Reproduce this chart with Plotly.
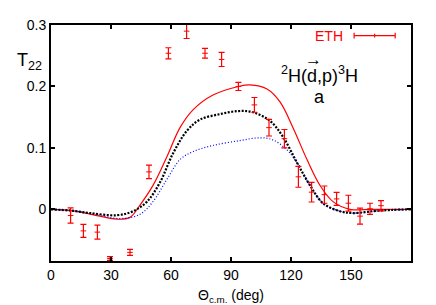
import plotly.graph_objects as go

# ETH data
theta_eth = [9.8, 16.2, 23.2, 29.5, 39.5, 49.0, 58.7, 67.8, 77.0, 85.3, 93.7, 101.7, 109.0, 116.7,
             123.7, 130.3, 136.7, 142.8, 148.7, 154.5, 159.5, 165.0]
t22_eth = [-0.010, -0.035, -0.037, -0.080, -0.070, 0.061, 0.254, 0.290, 0.254, 0.244, 0.200, 0.170, 0.133, 0.115,
           0.053, 0.028, 0.024, 0.017, 0.010, -0.011, 0.001, 0.006]
err_eth = [0.0125, 0.0105, 0.0115, 0.003, 0.005, 0.011, 0.009, 0.012, 0.008, 0.0115, 0.0066, 0.012, 0.0136, 0.015,
           0.017, 0.016, 0.014, 0.0105, 0.013, 0.013, 0.009, 0.0084]

# red solid curve
theta_red = [0, 10, 20, 33, 39.5, 44.5, 51, 58, 64.5, 71, 81, 93.7, 99.5, 108, 114.5, 121, 128, 134.5, 141, 149.5, 160, 170, 180]
t22_red = [0, -0.002, -0.008, -0.016, -0.013, 0.007, 0.039, 0.086, 0.133, 0.162, 0.186, 0.200, 0.2027, 0.196, 0.175,
           0.133, 0.081, 0.039, 0.0126, 0.0, 0, 0, 0]

# black dotted curve
theta_blk = [0, 10, 19.5, 33, 41, 48, 54.5, 61, 68, 74.5, 84.5, 93.7, 101, 109.5, 116, 123, 129.5, 136, 144.5, 151, 161, 170, 180]
t22_blk = [0, -0.002, -0.006, -0.0095, -0.003, 0.0126, 0.044, 0.091, 0.128, 0.146, 0.155, 0.160, 0.158, 0.144, 0.118,
           0.076, 0.039, 0.010, -0.003, -0.006, -0.003, -0.001, 0]

# blue dotted curve
theta_blu = [0, 10, 19.5, 34.5, 44.5, 51, 58, 64.5, 71, 81, 94.5, 104.5, 111, 118, 123, 129.5, 136, 144.5, 151, 161, 170, 180]
t22_blu = [0, -0.002, -0.006, -0.015, -0.008, 0.0126, 0.049, 0.081, 0.094, 0.104, 0.112, 0.1165, 0.113, 0.0966,
           0.076, 0.039, 0.010, -0.003, -0.006, -0.003, -0.001, 0]

x_ticks = [0, 30, 60, 90, 120, 150]
y_ticks = [0, 0.1, 0.2, 0.3]
y_ticklabels = ["0", "0.1", "0.2", "0.3"]

FONT = "Liberation Sans, Arial, sans-serif"

fig = go.Figure()
fig.add_trace(go.Scatter(x=theta_red, y=t22_red, mode="lines", line=dict(color="red", width=1.2, shape="spline"),
                         showlegend=False))
fig.add_trace(go.Scatter(x=theta_blu, y=t22_blu, mode="lines",
                         line=dict(color="blue", width=1.2, dash="1px,2px", shape="spline"),
                         showlegend=False))
fig.add_trace(go.Scatter(x=theta_blk, y=t22_blk, mode="lines",
                         line=dict(color="black", width=2.2, dash="2px,1.5px", shape="spline"),
                         showlegend=False))
fig.add_trace(go.Scatter(x=theta_eth, y=t22_eth, mode="markers",
                         marker=dict(symbol="line-ew-open", size=4, color="red", line=dict(color="red", width=1)),
                         error_y=dict(type="data", array=err_eth, visible=True, color="red", thickness=1.2, width=3),
                         showlegend=False))

fig.update_xaxes(range=[0, 180], tickvals=x_ticks, ticktext=[str(v) for v in x_ticks],
                 ticks="inside", ticklen=4, tickwidth=2, tickcolor="black",
                 showline=True, linewidth=2, linecolor="black", mirror="allticks",
                 showgrid=False, zeroline=False,
                 tickfont=dict(family=FONT, size=14, color="black"))
fig.update_yaxes(range=[-0.084, 0.3], tickvals=y_ticks, ticktext=y_ticklabels,
                 ticks="inside", ticklen=4, tickwidth=2, tickcolor="black",
                 showline=True, linewidth=2, linecolor="black", mirror="allticks",
                 showgrid=False, zeroline=False,
                 tickfont=dict(family=FONT, size=14, color="black"))

annotations = [
    dict(text="T<sub>22</sub>", xref="paper", yref="paper", x=-0.02, y=0.845, xanchor="right", yanchor="middle",
         showarrow=False, font=dict(family=FONT, size=18, color="black")),
    dict(text="<sup>2</sup>H(d,p)<sup>3</sup>H", xref="paper", yref="paper", x=0.747, y=0.79,
         xanchor="center", yanchor="middle", showarrow=False, font=dict(family=FONT, size=18, color="black")),
    dict(text="\u2192", xref="paper", yref="paper", x=0.728, y=0.852,
         xanchor="center", yanchor="middle", showarrow=False, font=dict(family=FONT, size=17, color="black")),
    dict(text="a", xref="paper", yref="paper", x=0.747, y=0.693, xanchor="center", yanchor="middle",
         showarrow=False, font=dict(family=FONT, size=18, color="black")),
    dict(text="ETH", xref="paper", yref="paper", x=0.817, y=0.955, xanchor="right", yanchor="middle",
         showarrow=False, font=dict(family=FONT, size=14, color="red")),
    dict(text="Θ<sub>c.m.</sub> (deg)", xref="paper", yref="paper", x=0.5, y=-0.147, xanchor="center",
         yanchor="middle", showarrow=False, font=dict(family=FONT, size=14, color="black")),
]
shapes = [
    dict(type="line", xref="paper", yref="paper", x0=0.842, x1=0.956, y0=0.955, y1=0.955, line=dict(color="red", width=1.2)),
    dict(type="line", xref="paper", yref="paper", x0=0.842, x1=0.842, y0=0.943, y1=0.967, line=dict(color="red", width=1.2)),
    dict(type="line", xref="paper", yref="paper", x0=0.956, x1=0.956, y0=0.943, y1=0.967, line=dict(color="red", width=1.2)),
    dict(type="line", xref="paper", yref="paper", x0=0.899, x1=0.899, y0=0.947, y1=0.963, line=dict(color="red", width=1.2)),
]

# the page body adds an 8px offset; size/margins compensate so the plot area lands where the reference has it
fig.update_layout(width=428, height=297, margin=dict(l=43, r=25, t=9, b=44),
                  plot_bgcolor="white", paper_bgcolor="white",
                  annotations=annotations, shapes=shapes, showlegend=False)

fig.write_html("out.html")
